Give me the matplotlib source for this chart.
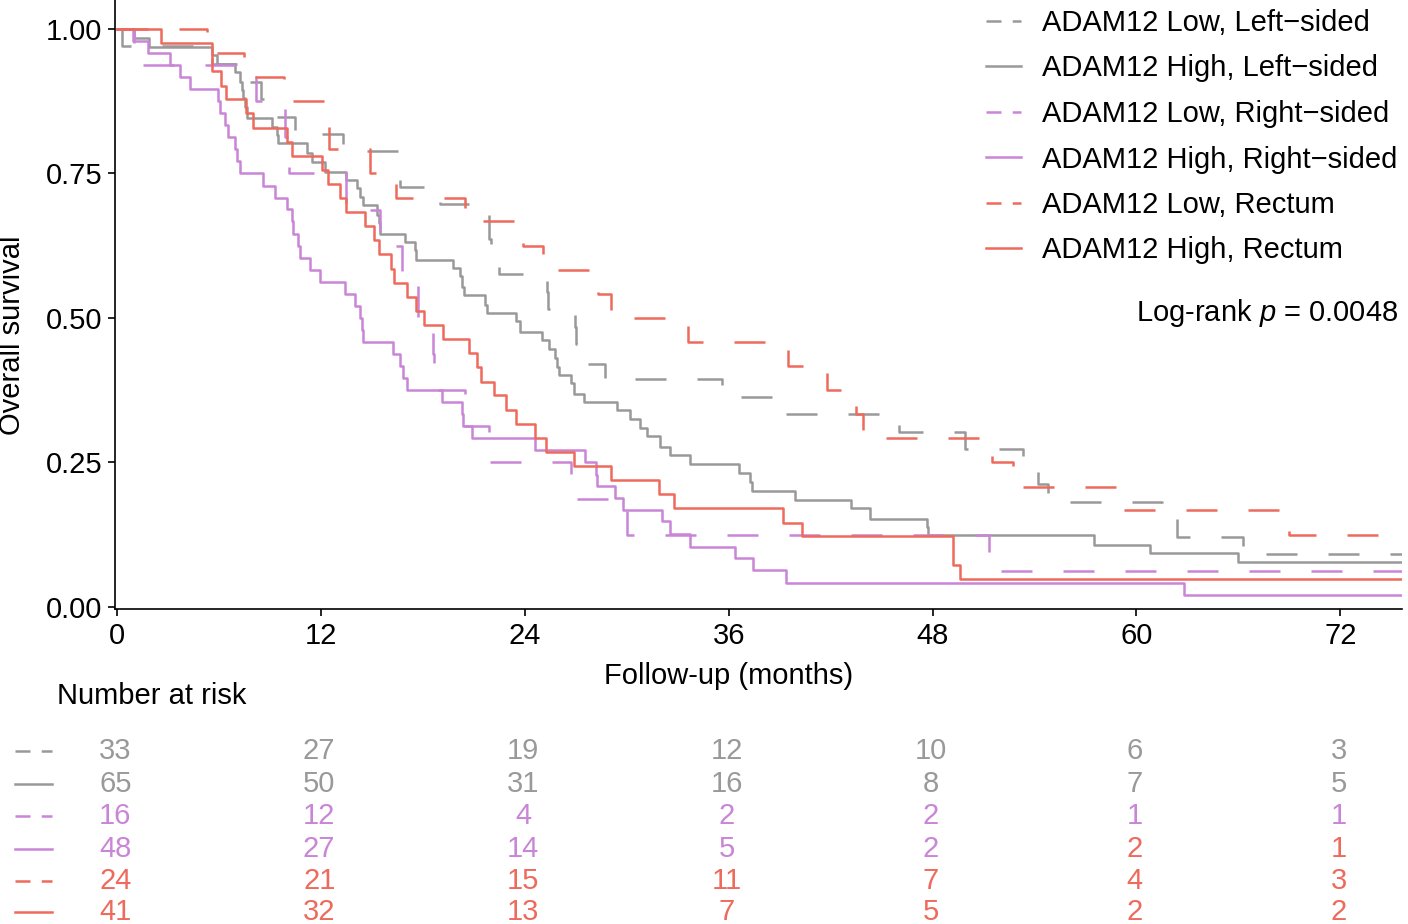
import matplotlib
matplotlib.use("Agg")
import matplotlib.pyplot as plt
from matplotlib.lines import Line2D
from matplotlib.transforms import blended_transform_factory

plt.rcParams['font.family'] = ['Liberation Sans', 'DejaVu Sans']
plt.rcParams['mathtext.fontset'] = 'custom'
plt.rcParams['mathtext.it'] = 'Liberation Sans:italic'
plt.rcParams['mathtext.rm'] = 'Liberation Sans'

# group labels, colours and line types (same order as the legend)
labels = ['ADAM12 Low, Left\u2212sided', 'ADAM12 High, Left\u2212sided',
          'ADAM12 Low, Right\u2212sided', 'ADAM12 High, Right\u2212sided',
          'ADAM12 Low, Rectum', 'ADAM12 High, Rectum']
gray, purple, red = '#999999', '#C985D6', '#EE6A5C'
colors = [gray, gray, purple, purple, red, red]
dashed = [True, False, True, False, True, False]

# Kaplan-Meier steps (months, survival after the step)
low_left_t = [0, 0.3, 5.6, 7.3, 8.5, 9.3, 10.5, 13.3, 16.65, 19.0, 21.9, 22.0, 22.5,
              25.3, 25.35, 26.96, 27.0, 27.6, 28.7, 35.6, 38.7, 46.0, 49.9, 53.3,
              54.2, 54.8, 61.5, 62.4, 66.25]
low_left_s = [1.0, 0.970, 0.939, 0.909, 0.879, 0.848, 0.818, 0.788, 0.727, 0.697, 0.636,
              0.606, 0.576, 0.545, 0.515, 0.485, 0.455, 0.421, 0.394, 0.364, 0.333,
              0.303, 0.273, 0.243, 0.212, 0.182, 0.152, 0.121, 0.091]

high_left_t = [0, 1.0, 1.9, 5.6, 5.9, 6.95, 7.24, 7.35, 7.43, 7.55, 7.63, 9.1, 9.4, 9.5,
               11.16, 11.46, 12.24, 13.5, 14.1, 14.3, 14.45, 15.3, 15.4, 15.5, 16.95,
               17.54, 17.6, 19.8, 20.2, 20.3, 20.4, 21.66, 21.75, 23.5, 23.7, 25.0,
               25.4, 25.8, 25.9, 26.0, 26.7, 26.9, 27.5, 29.4, 30.2, 30.8, 31.2, 31.96,
               32.55, 33.7, 36.6, 37.26, 37.35, 39.9, 43.2, 44.3, 47.7, 47.75, 57.5,
               60.8, 66.0]
high_left_s = [1.0, 0.985, 0.969, 0.954, 0.940, 0.926, 0.908, 0.894, 0.880, 0.865, 0.846,
               0.831, 0.817, 0.802, 0.785, 0.770, 0.753, 0.739, 0.724, 0.710, 0.696,
               0.678, 0.664, 0.646, 0.632, 0.618, 0.600, 0.586, 0.572, 0.554, 0.540,
               0.522, 0.508, 0.494, 0.476, 0.462, 0.447, 0.430, 0.416, 0.401, 0.387,
               0.369, 0.355, 0.341, 0.326, 0.309, 0.295, 0.277, 0.263, 0.247, 0.231,
               0.217, 0.201, 0.185, 0.171, 0.153, 0.139, 0.125, 0.108, 0.093, 0.077]

low_right_t = [0, 1.0, 8.2, 9.9, 10.1, 13.5, 15.5, 16.75, 17.7, 18.6, 18.65, 20.5, 21.9,
               26.7, 30.0, 51.3]
low_right_s = [1.0, 0.9375, 0.875, 0.8125, 0.75, 0.6875, 0.625, 0.5625, 0.5, 0.4375,
               0.375, 0.3125, 0.25, 0.1875, 0.125, 0.0625]

high_right_t = [0, 0.96, 1.84, 3.12, 3.71, 4.30, 5.96, 6.06, 6.36, 6.55, 6.95, 7.05, 7.24,
                8.61, 9.30, 9.99, 10.28, 10.38, 10.67, 10.77, 11.36, 11.95, 13.42, 14.0,
                14.3, 14.4, 14.5, 16.26, 16.65, 16.85, 17.05, 19.1, 20.29, 20.38, 20.9,
                24.6, 27.55, 28.2, 28.25, 29.3, 29.8, 32.06, 32.55, 33.7, 36.4, 37.45,
                39.4, 62.8]
high_right_s = [1.0, 0.979, 0.958, 0.938, 0.917, 0.896, 0.875, 0.854, 0.833, 0.813, 0.792,
                0.771, 0.750, 0.729, 0.708, 0.688, 0.667, 0.646, 0.625, 0.604, 0.583,
                0.563, 0.542, 0.521, 0.500, 0.479, 0.458, 0.438, 0.417, 0.396, 0.375,
                0.354, 0.333, 0.313, 0.292, 0.271, 0.250, 0.229, 0.209, 0.188, 0.168,
                0.148, 0.126, 0.104, 0.085, 0.064, 0.042, 0.021]

low_rectum_t = [0, 5.3, 7.5, 9.8, 12.4, 12.45, 14.9, 16.4, 20.5, 23.9, 25.1, 28.3, 29.1,
                33.6, 39.5, 41.8, 43.5, 43.9, 51.5, 52.75, 59.2, 69.0]
low_rectum_s = [1.0, 0.958, 0.917, 0.875, 0.833, 0.792, 0.75, 0.708, 0.667, 0.625, 0.583,
                0.542, 0.5, 0.458, 0.417, 0.375, 0.333, 0.292, 0.25, 0.208, 0.167, 0.125]

high_rectum_t = [0, 2.6, 5.6, 6.1, 6.4, 7.6, 8.0, 10.0, 10.3, 12.05, 12.4, 13.1, 13.5,
                 14.6, 15.1, 15.4, 16.1, 16.3, 17.05, 17.6, 18.07, 19.2, 20.7, 21.2,
                 21.4, 22.2, 22.9, 23.5, 24.6, 25.25, 26.9, 29.1, 31.9, 32.8, 39.2, 40.3,
                 49.2, 49.6]
high_rectum_s = [1.0, 0.976, 0.927, 0.902, 0.878, 0.854, 0.829, 0.805, 0.780, 0.756,
                 0.732, 0.707, 0.683, 0.659, 0.634, 0.610, 0.585, 0.561, 0.537, 0.512,
                 0.488, 0.463, 0.439, 0.415, 0.390, 0.366, 0.341, 0.317, 0.293, 0.268,
                 0.244, 0.220, 0.195, 0.171, 0.146, 0.122, 0.073, 0.049]

curves = [(low_left_t, low_left_s), (high_left_t, high_left_s),
          (low_right_t, low_right_s), (high_right_t, high_right_s),
          (low_rectum_t, low_rectum_s), (high_rectum_t, high_rectum_s)]

# number at risk table
risk_times = [0, 12, 24, 36, 48, 60, 72]
risk_low_left = [33, 27, 19, 12, 10, 6, 3]
risk_high_left = [65, 50, 31, 16, 8, 7, 5]
risk_low_right = [16, 12, 4, 2, 2, 1, 1]
risk_high_right = [48, 27, 14, 5, 2, 2, 1]
risk_low_rectum = [24, 21, 15, 11, 7, 4, 3]
risk_high_rectum = [41, 32, 13, 7, 5, 2, 2]
risk_rows = [risk_low_left, risk_high_left, risk_low_right,
             risk_high_right, risk_low_rectum, risk_high_rectum]

x_end = 75.63
W, H = 1408, 924
LW = 1.8

fig = plt.figure(figsize=(W / 100, H / 100), dpi=100)
ax = fig.add_axes([115 / W, 1 - 609.3 / H, (1402 - 115) / W, 609.3 / H])

for (t, s), c, d in zip(curves, colors, dashed):
    ls = (0, (12.4, 12.4)) if d else '-'
    ax.step(list(t) + [x_end + 1], list(s) + [s[-1]], where='post',
            color=c, lw=LW, linestyle=ls)

ax.set_xlim(-0.12, x_end)
ax.set_ylim(-0.004, 1.05)
ax.set_xticks(risk_times)
ax.set_yticks([0, 0.25, 0.5, 0.75, 1.0])
ax.set_yticklabels(['0.00', '0.25', '0.50', '0.75', '1.00'])
ax.tick_params(labelsize=21, length=5, width=1.2, pad=4)
for side in ['top', 'right']:
    ax.spines[side].set_visible(False)
for side in ['left', 'bottom']:
    ax.spines[side].set_linewidth(1.2)

# legend
handles = [Line2D([], [], color=c, lw=LW, linestyle=(0, (6, 4.5)) if d else '-')
           for c, d in zip(colors, dashed)]
ax.legend(handles, labels, loc='upper right', bbox_to_anchor=(1397 / W, 1 - 9 / H),
          bbox_transform=fig.transFigure, frameon=False, fontsize=21,
          handlelength=1.2, handletextpad=0.7, labelspacing=0.6,
          borderpad=0, borderaxespad=0)

fig.text(1398 / W, 1 - 313 / H, 'Log-rank $p$ = 0.0048', ha='right', va='center',
         fontsize=21)

# axis titles
fig.text(12 / W, 1 - 335 / H, 'Overall survival', rotation=90, ha='center',
         va='center', fontsize=21)
blend = blended_transform_factory(ax.transData, fig.transFigure)
ax.text(36, 1 - 676 / H, 'Follow-up (months)', transform=blend, ha='center',
        va='center', fontsize=21)

# risk table
fig.text(57 / W, 1 - 696 / H, 'Number at risk', ha='left', va='center', fontsize=21)
row_y = [751, 784, 816, 849, 881, 912]
for i, row in enumerate(risk_rows):
    y = 1 - row_y[i] / H
    ls = (0, (6, 4.5)) if dashed[i] else '-'
    fig.add_artist(Line2D([15 / W, 52 / W], [y, y], transform=fig.transFigure,
                          color=colors[i], lw=LW, linestyle=ls))
    for j, (tm, n) in enumerate(zip(risk_times, row)):
        c = colors[i]
        if i == 3 and j >= 5:
            c = red
        ax.text(tm - 0.1, y, str(n), transform=blend, ha='center', va='center',
                color=c, fontsize=21)

fig.savefig('out.png', dpi=100)
